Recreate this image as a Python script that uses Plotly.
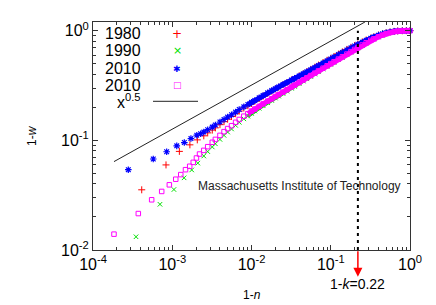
import plotly.graph_objects as go
import math

# ---------------- data ----------------
# sparse (small-count) points at the left end of each series
red_x_lo = [4.12e-4, 8.34e-4, 1.23e-3, 1.67e-3, 2.07e-3]
red_y_lo = [0.0354, 0.0597, 0.0793, 0.091, 0.101]
green_x_lo = [3.49e-4, 7.0e-4, 1.05e-3, 1.41e-3, 1.76e-3, 2.1e-3]
green_y_lo = [0.0132, 0.0261, 0.0356, 0.0455, 0.0537, 0.062]
blue_x_lo = [2.79e-4, 5.76e-4, 8.5e-4, 1.14e-3, 1.42e-3, 1.72e-3, 2.04e-3, 2.28e-3]
blue_y_lo = [0.054, 0.0676, 0.0787, 0.0891, 0.0955, 0.1038, 0.1114, 0.115]
mag_x_lo = [1.84e-4, 3.73e-4, 5.5e-4, 7.36e-4, 9.19e-4, 1.107e-3, 1.28e-3,
            1.47e-3, 1.66e-3, 1.84e-3, 2.02e-3, 2.21e-3]
mag_y_lo = [0.01395, 0.0215, 0.0287, 0.0342, 0.0393, 0.0442, 0.0487,
            0.054, 0.058, 0.063, 0.069, 0.075]

# dense part of the curves
x_dense = [0.0025, 0.0028, 0.0032, 0.0035, 0.004, 0.0045, 0.005, 0.0056, 0.0063,
           0.007, 0.008, 0.009, 0.01, 0.011, 0.0125, 0.014, 0.016, 0.018, 0.02,
           0.022, 0.025, 0.028, 0.032, 0.035, 0.04, 0.045, 0.05, 0.056, 0.063,
           0.07, 0.08, 0.09, 0.1, 0.11, 0.125, 0.14, 0.16, 0.18, 0.2, 0.22, 0.25,
           0.28, 0.32, 0.35, 0.4, 0.45, 0.5, 0.56, 0.63, 0.7, 0.8, 0.9, 1.0]
red_y = [0.110, 0.117, 0.124, 0.130, 0.139, 0.148, 0.156, 0.165, 0.175, 0.185,
         0.197, 0.207, 0.217, 0.227, 0.240, 0.253, 0.268, 0.281, 0.294, 0.305,
         0.322, 0.336, 0.355, 0.367, 0.387, 0.405, 0.424, 0.444, 0.465, 0.486,
         0.512, 0.537, 0.560, 0.582, 0.612, 0.641, 0.675, 0.705, 0.733, 0.758,
         0.791, 0.822, 0.857, 0.880, 0.912, 0.937, 0.956, 0.974, 0.987, 0.994,
         0.998, 1.0, 1.0]
green_y = [0.072, 0.079, 0.087, 0.093, 0.102, 0.111, 0.119, 0.127, 0.137, 0.146,
           0.157, 0.166, 0.176, 0.185, 0.196, 0.207, 0.220, 0.231, 0.243, 0.253,
           0.267, 0.281, 0.298, 0.310, 0.329, 0.347, 0.364, 0.382, 0.402, 0.422,
           0.447, 0.471, 0.493, 0.513, 0.543, 0.570, 0.604, 0.637, 0.668, 0.697,
           0.735, 0.771, 0.812, 0.839, 0.878, 0.910, 0.936, 0.960, 0.978, 0.989,
           0.997, 1.0, 1.0]
blue_y = [0.119, 0.125, 0.132, 0.138, 0.147, 0.155, 0.163, 0.171, 0.181, 0.191,
          0.202, 0.212, 0.222, 0.231, 0.244, 0.256, 0.271, 0.284, 0.296, 0.307,
          0.323, 0.337, 0.355, 0.367, 0.386, 0.404, 0.422, 0.441, 0.461, 0.481,
          0.506, 0.531, 0.553, 0.575, 0.605, 0.634, 0.668, 0.698, 0.726, 0.752,
          0.785, 0.817, 0.853, 0.877, 0.910, 0.935, 0.955, 0.973, 0.986, 0.993,
          0.998, 1.0, 1.0]
mag_y = [0.081, 0.0875, 0.096, 0.102, 0.111, 0.120, 0.128, 0.136, 0.146, 0.155,
         0.166, 0.175, 0.185, 0.193, 0.204, 0.215, 0.228, 0.239, 0.251, 0.261,
         0.275, 0.289, 0.306, 0.318, 0.337, 0.355, 0.372, 0.390, 0.410, 0.430,
         0.455, 0.479, 0.501, 0.521, 0.551, 0.578, 0.612, 0.644, 0.675, 0.703,
         0.741, 0.776, 0.817, 0.843, 0.881, 0.912, 0.938, 0.962, 0.979, 0.990,
         0.997, 1.0, 1.0]

# reference power-law line (as drawn)
line_x = [1.84e-4, 0.27]
line_y = [0.064, 1.2]

k_value = 0.22
legend_labels = ["1980", "1990", "2010", "2010"]
x_tick_vals = [1e-4, 1e-3, 1e-2, 1e-1, 1e0]
x_tick_text = ["10<sup>-4</sup>", "10<sup>-3</sup>", "10<sup>-2</sup>", "10<sup>-1</sup>", "10<sup>0</sup>"]
y_tick_vals = [1e-2, 1e-1, 1e0]
y_tick_text = ["10<sup>-2</sup>", "10<sup>-1</sup>", "10<sup>0</sup>"]

# ---------------- figure ----------------
FONT = "Liberation Sans, Arial, sans-serif"
OFF = 8                       # page body margin
PL, PR, PT, PB = 93, 410, 20, 250   # plot area on the page
W, H = 436 - OFF, 305 - OFF
ML, MT = PL - OFF, PT - OFF
MR, MB = 436 - PR, 305 - PB

def pxx(px):
    return (px - PL) / (PR - PL)

def pxy(py):
    return (PB - py) / (PB - PT)

fig = go.Figure()

BAND_START = 11   # index in x_dense from which the markers merge into a band

series = [
    (red_x_lo, red_y_lo, red_y, "#ff0000", "cross-thin-open", 5, 1.0, 3.5),
    (green_x_lo, green_y_lo, green_y, "#00e000", "x-thin-open", 4.5, 1.0, 3.5),
    (blue_x_lo, blue_y_lo, blue_y, "#0000ff", "asterisk-open", 5.5, 1.2, 5.0),
    (mag_x_lo, mag_y_lo, mag_y, "#ff00ff", "square-open", 4.5, 1.0, 5.0),
]
for xlo, ylo, yd, col, sym, size, lw, bw in series:
    # band formed by the densely packed points
    fig.add_trace(go.Scatter(
        x=x_dense[BAND_START:], y=yd[BAND_START:], mode="lines", showlegend=False,
        line=dict(color=col, width=bw),
    ))
    fig.add_trace(go.Scatter(
        x=xlo + x_dense, y=ylo + yd, mode="markers", showlegend=False, cliponaxis=False,
        marker=dict(symbol=sym, size=size, color=col, line=dict(color=col, width=lw)),
    ))

fig.add_trace(go.Scatter(x=line_x, y=line_y, mode="lines", showlegend=False,
                         line=dict(color="#222222", width=1)))
fig.add_trace(go.Scatter(x=[k_value, k_value], y=[0.01, 1.0], mode="lines", showlegend=False,
                         line=dict(color="black", width=2, dash="3px,4px")))

minor_vals = []
for d in [-4, -3, -2, -1]:
    for m in range(2, 10):
        minor_vals.append(m * 10 ** d)

axis_common = dict(
    type="log", showgrid=False, zeroline=False, showline=True, linecolor="#333333",
    linewidth=1, mirror="allticks", ticks="inside", ticklen=5, tickcolor="#333333",
    tickfont=dict(family=FONT, size=16, color="black"),
)
fig.update_xaxes(range=[-4, 0], tickvals=x_tick_vals, ticktext=x_tick_text,
                 minor=dict(tickvals=minor_vals, ticks="inside", ticklen=3, tickcolor="#333333"),
                 **axis_common)
fig.update_yaxes(range=[-2, math.log10(1.2)], tickvals=y_tick_vals, ticktext=y_tick_text,
                 minor=dict(tickvals=[v for v in minor_vals if v >= 0.01], ticks="inside",
                            ticklen=3, tickcolor="#333333"),
                 **axis_common)

def txt(text, px, py, size, xanchor="center", color="black", family=FONT, **kw):
    return dict(text=text, xref="paper", yref="paper", x=pxx(px), y=pxy(py),
                xanchor=xanchor, yanchor="middle", showarrow=False,
                font=dict(family=family, size=size, color=color), **kw)

ann = []
ann.append(txt("1-<i>n</i>", 252, 295, 12))
ann.append(txt("1-<i>w</i>", 32, 135, 12, textangle=-90))
ann.append(txt("Massachusetts Institute of Technology", 299, 185, 12, color="#222222"))
# k arrow and label
ann.append(dict(text="", x=math.log10(k_value), xref="x", yref="paper",
                y=pxy(277), showarrow=True, ax=0, ay=-27,
                arrowcolor="#ff0000", arrowwidth=1.5, arrowhead=2, arrowsize=1.2))
ann.append(dict(text="1-<i>k</i>=0.22", x=math.log10(k_value), xref="x", yref="paper",
                y=pxy(284), xanchor="center", yanchor="middle", showarrow=False,
                font=dict(family=FONT, size=14, color="black")))
# legend
leg_y = [32, 49, 67, 84]
leg_sym = [("+", "#ff0000", 12), ("×", "#00e000", 11), ("✱", "#0000ff", 9), ("□", "#ff00ff", 9)]
for lab, py, (ch, col, fs) in zip(legend_labels, leg_y, leg_sym):
    ann.append(txt(lab, 143, py, 16, xanchor="right"))
    ann.append(txt(ch, 177, py, fs, color=col, family="DejaVu Sans"))
ann.append(txt("x<sup>0.5</sup>", 143, 100, 16, xanchor="right"))

fig.update_layout(
    width=W, height=H, margin=dict(l=ML, r=MR, t=MT, b=MB),
    paper_bgcolor="white", plot_bgcolor="white", annotations=ann,
    shapes=[dict(type="line", xref="paper", yref="paper",
                 x0=pxx(153), x1=pxx(198), y0=pxy(100), y1=pxy(100),
                 line=dict(color="#222222", width=1))],
)

fig.write_html("out.html")
